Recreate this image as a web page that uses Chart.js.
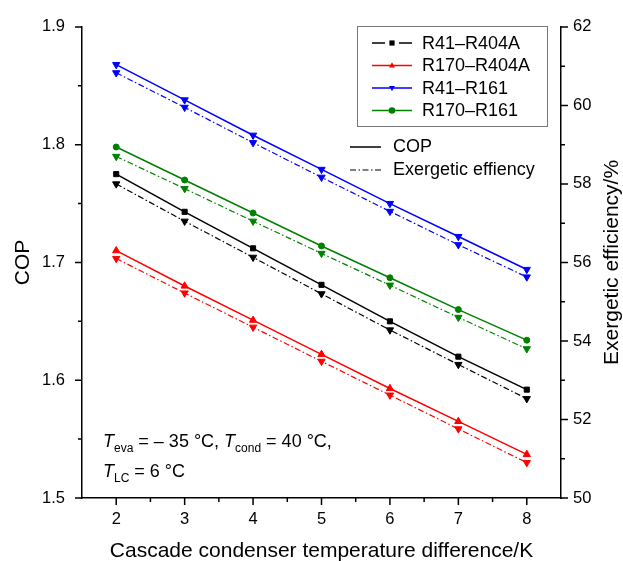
<!DOCTYPE html>
<html>
<head>
<meta charset="utf-8">
<script src="https://cdn.jsdelivr.net/npm/chart.js@4.4.1/dist/chart.umd.min.js"></script>
<style>
  html, body { margin: 0; padding: 0; background: #fff; }
</style>
</head>
<body>
<canvas id="myChart" width="623" height="561"></canvas>
<script>
// cascade condenser temperature difference / K
const tempDiff = [2, 3, 4, 5, 6, 7, 8];

// COP (left axis)
const copR41R404A = [1.775, 1.743, 1.712, 1.681, 1.650, 1.620, 1.592];
const copR170R404A = [1.710, 1.680, 1.651, 1.622, 1.593, 1.565, 1.537];
const copR41R161 = [1.868, 1.838, 1.808, 1.779, 1.750, 1.722, 1.694];
const copR170R161 = [1.798, 1.770, 1.742, 1.714, 1.687, 1.660, 1.634];

// exergetic efficiency / % (right axis)
const exR41R404A = [58.00, 57.05, 56.13, 55.20, 54.28, 53.40, 52.53];
const exR170R404A = [56.10, 55.22, 54.35, 53.48, 52.62, 51.76, 50.90];
const exR41R161 = [60.83, 59.95, 59.05, 58.17, 57.30, 56.45, 55.63];
const exR170R161 = [58.70, 57.88, 57.05, 56.23, 55.42, 54.60, 53.80];

const seriesNames = ["R41\u2013R404A", "R170\u2013R404A", "R41\u2013R161", "R170\u2013R161"];
const seriesColors = ["#000000", "#ff0000", "#0000ff", "#008000"];

const FONT = "'Liberation Sans', Arial, Helvetica, sans-serif";

function pts(arr) {
    return tempDiff.map((x, i) => ({ x: x, y: arr[i] }));
}

function copSet(label, arr, color, style, radius, rot) {
    return {
        label: label,
        data: pts(arr),
        yAxisID: 'y',
        borderColor: color,
        backgroundColor: color,
        borderWidth: 1.5,
        pointStyle: style,
        pointRadius: radius,
        pointRotation: rot || 0,
        pointBorderWidth: 1,
        pointBackgroundColor: color,
        pointBorderColor: color,
        tension: 0
    };
}

function exSet(label, arr, color) {
    return {
        label: label,
        data: pts(arr),
        yAxisID: 'y2',
        borderColor: color,
        backgroundColor: color,
        borderWidth: 1.2,
        borderDash: [6, 2.5, 1.5, 2.5],
        pointStyle: 'triangle',
        pointRadius: 4.2,
        pointRotation: 180,
        pointBorderWidth: 1,
        pointBackgroundColor: color,
        pointBorderColor: color,
        tension: 0
    };
}

// tick marks (major + minor), drawn outward
const tickMarks = {
    id: 'tickMarks',
    afterDraw(chart) {
        const ctx = chart.ctx;
        const xs = chart.scales.x, yl = chart.scales.y, yr = chart.scales.y2;
        ctx.save();
        ctx.strokeStyle = '#000';
        ctx.lineWidth = 1.5;
        ctx.beginPath();
        xs.ticks.forEach(t => {
            if (t.value <= xs.min || t.value >= xs.max) return;
            const px = xs.getPixelForValue(t.value);
            const len = Number.isInteger(t.value) ? 7 : 4;
            ctx.moveTo(px, xs.top);
            ctx.lineTo(px, xs.top + len);
        });
        yl.ticks.forEach(t => {
            const py = yl.getPixelForValue(t.value);
            const len = Math.round(t.value * 100) % 10 === 0 ? 7 : 4;
            ctx.moveTo(yl.right, py);
            ctx.lineTo(yl.right - len, py);
        });
        yr.ticks.forEach(t => {
            const py = yr.getPixelForValue(t.value);
            const len = Math.round(t.value) % 2 === 0 ? 7 : 4;
            ctx.moveTo(yr.left, py);
            ctx.lineTo(yr.left + len, py);
        });
        ctx.stroke();

        // right axis title, reading bottom to top
        ctx.fillStyle = '#000';
        ctx.font = "21px " + FONT;
        ctx.textAlign = 'center';
        ctx.textBaseline = 'middle';
        ctx.translate(612, (chart.chartArea.top + chart.chartArea.bottom) / 2);
        ctx.rotate(-Math.PI / 2);
        ctx.fillText("Exergetic efficiency/%", 0, 0);
        ctx.restore();
    }
};

function drawMarker(ctx, style, x, y, r) {
    ctx.beginPath();
    if (style === 'rect') {
        ctx.rect(x - r, y - r, 2 * r, 2 * r);
    } else if (style === 'up') {
        ctx.moveTo(x, y - r);
        ctx.lineTo(x + r * 0.9, y + r * 0.6);
        ctx.lineTo(x - r * 0.9, y + r * 0.6);
        ctx.closePath();
    } else if (style === 'down') {
        ctx.moveTo(x, y + r);
        ctx.lineTo(x + r * 0.9, y - r * 0.6);
        ctx.lineTo(x - r * 0.9, y - r * 0.6);
        ctx.closePath();
    } else {
        ctx.arc(x, y, r, 0, Math.PI * 2);
    }
    ctx.fill();
}

// legends and the condition note
const notes = {
    id: 'notes',
    afterDraw(chart) {
        const ctx = chart.ctx;
        ctx.save();

        // boxed series legend
        ctx.fillStyle = '#fff';
        ctx.fillRect(357, 26, 190, 100);
        ctx.strokeStyle = '#777';
        ctx.lineWidth = 1;
        ctx.strokeRect(357.5, 26.5, 190, 100);
        const rows = [43, 65.5, 88, 110.5];
        const marks = ['rect', 'up', 'down', 'circle'];
        ctx.font = "18px " + FONT;
        ctx.textBaseline = 'middle';
        ctx.textAlign = 'left';
        for (let i = 0; i < 4; i++) {
            const y = rows[i];
            ctx.strokeStyle = seriesColors[i];
            ctx.fillStyle = seriesColors[i];
            ctx.lineWidth = 1.5;
            ctx.beginPath();
            if (i === 0) {
                ctx.moveTo(372, y); ctx.lineTo(385, y);
                ctx.moveTo(399, y); ctx.lineTo(412, y);
            } else {
                ctx.moveTo(372, y); ctx.lineTo(412, y);
            }
            ctx.stroke();
            drawMarker(ctx, marks[i], 392, y, i === 0 ? 2.6 : 3.3);
            ctx.fillStyle = '#000';
            ctx.fillText(seriesNames[i], 422, y + 1);
        }

        // line style legend
        ctx.strokeStyle = '#000';
        ctx.fillStyle = '#000';
        ctx.lineWidth = 1.5;
        ctx.beginPath();
        ctx.moveTo(350, 147); ctx.lineTo(381, 147);
        ctx.stroke();
        ctx.lineWidth = 1.2;
        ctx.setLineDash([6, 2.5, 1.5, 2.5]);
        ctx.beginPath();
        ctx.moveTo(350, 170); ctx.lineTo(381, 170);
        ctx.stroke();
        ctx.setLineDash([]);
        ctx.fillText("COP", 393, 147);
        ctx.fillText("Exergetic effiency", 393, 170);

        // operating conditions
        const left = chart.chartArea.left + 21;
        ctx.textBaseline = 'alphabetic';
        function run(parts, x, y) {
            parts.forEach(p => {
                ctx.font = (p.it ? "italic " : "") + (p.sub ? "12px " : "18px ") + FONT;
                const dy = p.sub ? 5 : 0;
                ctx.fillText(p.t, x, y + dy);
                x += ctx.measureText(p.t).width;
            });
        }
        run([
            { t: "T", it: true }, { t: "eva", sub: true },
            { t: " = \u2013 35 \u00b0C, " },
            { t: "T", it: true }, { t: "cond", sub: true },
            { t: " = 40 \u00b0C," }
        ], left, 447);
        run([
            { t: "T", it: true }, { t: "LC", sub: true },
            { t: " = 6 \u00b0C" }
        ], left, 477);

        ctx.restore();
    }
};

const ctx = document.getElementById('myChart').getContext('2d');
const myChart = new Chart(ctx, {
    type: 'line',
    data: {
        datasets: [
            exSet(seriesNames[0] + " exergetic", exR41R404A, seriesColors[0]),
            exSet(seriesNames[1] + " exergetic", exR170R404A, seriesColors[1]),
            exSet(seriesNames[2] + " exergetic", exR41R161, seriesColors[2]),
            exSet(seriesNames[3] + " exergetic", exR170R161, seriesColors[3]),
            copSet(seriesNames[0], copR41R404A, seriesColors[0], 'rect', 3.6),
            copSet(seriesNames[1], copR170R404A, seriesColors[1], 'triangle', 4.2),
            copSet(seriesNames[2], copR41R161, seriesColors[2], 'triangle', 4.2, 180),
            copSet(seriesNames[3], copR170R161, seriesColors[3], 'circle', 3)
        ]
    },
    options: {
        responsive: false,
        animation: false,
        devicePixelRatio: 1,
        layout: { padding: { top: 18, left: 0, right: 0, bottom: 0 } },
        plugins: {
            legend: { display: false },
            tooltip: { enabled: false }
        },
        scales: {
            x: {
                type: 'linear',
                min: 1.5,
                max: 8.5,
                afterFit(scale) { scale.height = 63; },
                grid: { display: false, drawTicks: false },
                border: { display: true, color: '#000', width: 1.5 },
                ticks: {
                    stepSize: 0.5,
                    padding: 12,
                    color: '#000',
                    font: { family: FONT, size: 16.5 },
                    maxRotation: 0,
                    autoSkip: false,
                    callback: v => Number.isInteger(v) ? String(v) : ''
                },
                title: {
                    display: true,
                    text: 'Cascade condenser temperature difference/K',
                    color: '#000',
                    font: { family: FONT, size: 21 },
                    padding: { top: 0, bottom: -3 }
                }
            },
            y: {
                position: 'left',
                min: 1.5,
                max: 1.9,
                afterFit(scale) { scale.width = 82; },
                grid: { display: false, drawTicks: false },
                border: { display: true, color: '#000', width: 1.5 },
                ticks: {
                    stepSize: 0.05,
                    padding: 17,
                    color: '#000',
                    font: { family: FONT, size: 16.5 },
                    autoSkip: false,
                    callback: v => Math.round(v * 100) % 10 === 0 ? v.toFixed(1) : ''
                },
                title: {
                    display: true,
                    text: 'COP',
                    color: '#000',
                    font: { family: FONT, size: 21 },
                    padding: { top: 11, bottom: 0 }
                }
            },
            y2: {
                position: 'right',
                min: 50,
                max: 62,
                afterFit(scale) { scale.width = 62; },
                grid: { display: false, drawTicks: false },
                border: { display: true, color: '#000', width: 1.5 },
                ticks: {
                    stepSize: 1,
                    padding: 12,
                    color: '#000',
                    font: { family: FONT, size: 16.5 },
                    autoSkip: false,
                    callback: v => Math.round(v) % 2 === 0 ? String(v) : ''
                }
            }
        }
    },
    plugins: [tickMarks, notes]
});
</script>
</body>
</html>
